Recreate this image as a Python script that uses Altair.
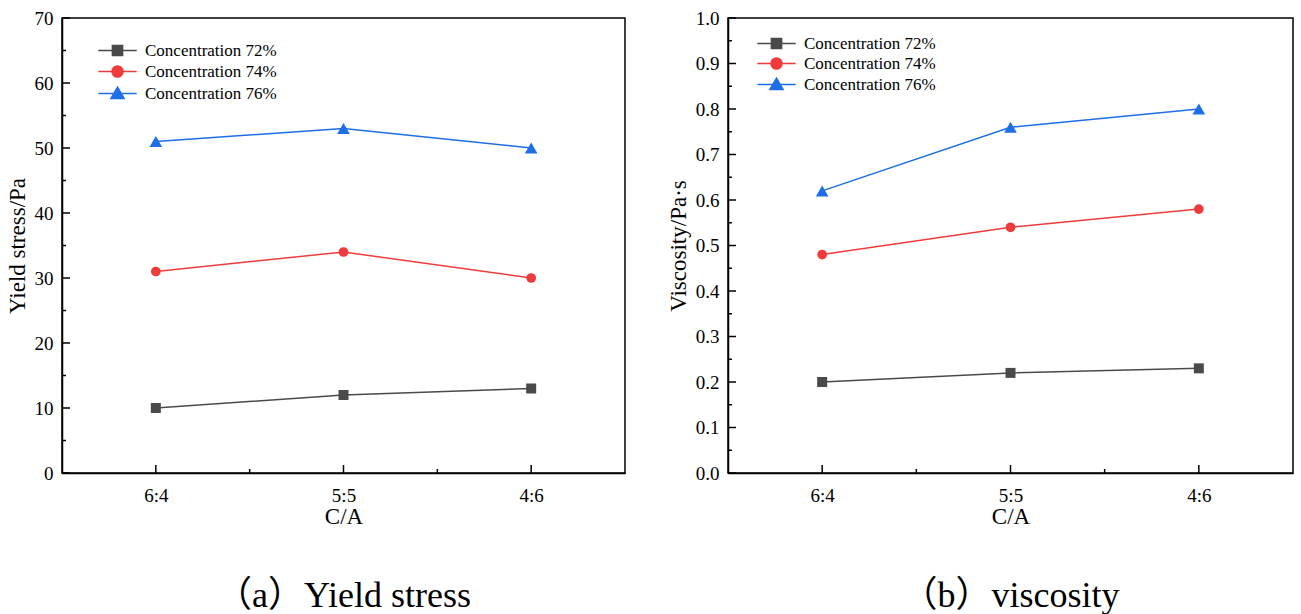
import altair as alt
import pandas as pd

# C/A ratio categories, placed at positions 1..3 on a numeric axis
CA_LABELS = ["6:4", "5:5", "4:6"]
CA_POS = [1, 2, 3]
CA_MINOR = [1.5, 2.5]

SERIES = ["Concentration 72%", "Concentration 74%", "Concentration 76%"]
COLORS = ["#4a4a4a", "#ef3b3b", "#1e6ee6"]
SHAPES = ["square", "circle", "triangle-up"]
SIZES = [100, 95, 160]

# Yield stress (Pa)
YIELD_72 = [10, 12, 13]
YIELD_74 = [31, 34, 30]
YIELD_76 = [51, 53, 50]

# Viscosity (Pa·s)
VISC_72 = [0.20, 0.22, 0.23]
VISC_74 = [0.48, 0.54, 0.58]
VISC_76 = [0.62, 0.76, 0.80]

Y_MAJOR_A = [0, 10, 20, 30, 40, 50, 60, 70]
Y_MINOR_A = [5, 15, 25, 35, 45, 55, 65]
Y_MAJOR_B = [0.0, 0.1, 0.2, 0.3, 0.4, 0.5, 0.6, 0.7, 0.8, 0.9, 1.0]
Y_MINOR_B = [0.05, 0.15, 0.25, 0.35, 0.45, 0.55, 0.65, 0.75, 0.85, 0.95]

# Legend glyphs: a short line with the marker in the middle
LEGEND_PATHS = [
    "M-3.2,0L3.2,0M-0.85,-0.85L0.85,-0.85L0.85,0.85L-0.85,0.85Z",
    "M-3.2,0L3.2,0M-0.92,0A0.92,0.92,0,1,1,0.92,0A0.92,0.92,0,1,1,-0.92,0Z",
    "M-3.2,0L3.2,0M0,-1.05L1.1,0.85L-1.1,0.85Z",
]

FONT = "Liberation Serif"
CAPTION_FONT = "Liberation Serif, Noto Sans CJK SC"
H = 455


def panel(series_values, ytitle, ydomain, ymajor, yminor, yfmt, caption,
          width, legend_x, legend_y, legend_gap):
    rows = []
    for name, vals in zip(SERIES, series_values):
        for p, v in zip(CA_POS, vals):
            rows.append({"series": name, "pos": p, "val": v})
    df = pd.DataFrame(rows)

    label_expr = "[" + ",".join("'%s'" % s for s in CA_LABELS) + "][datum.value - 1]"
    x_enc = alt.X(
        "pos:Q",
        scale=alt.Scale(domain=[0.5, 3.5], nice=False, zero=False),
        axis=alt.Axis(values=CA_POS, labelExpr=label_expr, title="C/A",
                      ticks=False, grid=False, labelPadding=13, titlePadding=0,
                      labelFont=FONT, titleFont=FONT),
    )
    y_enc = alt.Y(
        "val:Q",
        scale=alt.Scale(domain=ydomain, nice=False, zero=False),
        axis=alt.Axis(values=ymajor, format=yfmt, title=ytitle, ticks=False,
                      grid=False, labelPadding=9, titlePadding=5,
                      labelFont=FONT, titleFont=FONT),
    )

    layers = []
    # inward tick marks on the left axis
    for vals, length in ((ymajor, 8), (yminor, 4)):
        layers.append(
            alt.Chart(pd.DataFrame({"val": vals}))
            .mark_rule(color="black", strokeWidth=1.5)
            .encode(y=y_enc, x=alt.value(0), x2=alt.value(length))
        )
    # inward tick marks on the bottom axis
    for vals, length in ((CA_POS, 8), (CA_MINOR, 4)):
        layers.append(
            alt.Chart(pd.DataFrame({"pos": vals}))
            .mark_rule(color="black", strokeWidth=1.5)
            .encode(x=x_enc, y=alt.value(H), y2=alt.value(H - length))
        )

    for name, color, shape, size in zip(SERIES, COLORS, SHAPES, SIZES):
        sub = df[df["series"] == name]
        base = alt.Chart(sub)
        layers.append(base.mark_line(color=color, strokeWidth=1.5)
                      .encode(x=x_enc, y=y_enc))
        layers.append(base.mark_point(shape=shape, filled=True, color=color,
                                      size=size, opacity=1)
                      .encode(x=x_enc, y=y_enc))

    legend = alt.Legend(
        orient="none", legendX=legend_x, legendY=legend_y, title=None,
        labelFont=FONT, labelFontSize=17, labelColor="black",
        symbolSize=144, symbolStrokeWidth=1.5, symbolOpacity=1,
        labelOffset=19, rowPadding=legend_gap, padding=0,
    )
    color_scale = alt.Scale(domain=SERIES, range=COLORS)
    layers.append(
        alt.Chart(df).mark_point(filled=True, opacity=0).encode(
            x=x_enc, y=y_enc,
            fill=alt.Fill("series:N", scale=color_scale, legend=legend),
            stroke=alt.Stroke("series:N", scale=color_scale, legend=legend),
            shape=alt.Shape("series:N",
                            scale=alt.Scale(domain=SERIES, range=LEGEND_PATHS),
                            legend=legend),
        )
    )

    return alt.layer(*layers).properties(
        width=width, height=H,
        title=alt.TitleParams(caption, orient="bottom", font=CAPTION_FONT,
                              fontSize=36, fontWeight="normal", color="black",
                              anchor="middle", offset=51),
    )


left = panel([YIELD_72, YIELD_74, YIELD_76], "Yield stress/Pa", [0, 70],
             Y_MAJOR_A, Y_MINOR_A, "d", "（a）Yield stress", 563, 47, 24, 3)
right = panel([VISC_72, VISC_74, VISC_76], "Viscosity/Pa·s", [0, 1],
              Y_MAJOR_B, Y_MINOR_B, ".1f", "（b）viscosity", 565, 40, 17, 2)

chart = (
    alt.hconcat(left, right, spacing=40)
    .resolve_scale(x="independent", y="independent", fill="independent",
                   stroke="independent", shape="independent")
    .resolve_legend(fill="independent", stroke="independent", shape="independent")
    .properties(padding={"left": 5, "top": 8, "right": 0, "bottom": 0},
                background="white")
    .configure(font=FONT)
    .configure_view(stroke="black", strokeWidth=1.5)
    .configure_axis(domainColor="black", domainWidth=1.5,
                    labelFont=FONT, labelFontSize=19, labelColor="black",
                    titleFont=FONT, titleFontSize=23, titleColor="black",
                    titleFontWeight="normal")
)

chart.save("out.html", embed_options={"renderer": "svg", "actions": False})
